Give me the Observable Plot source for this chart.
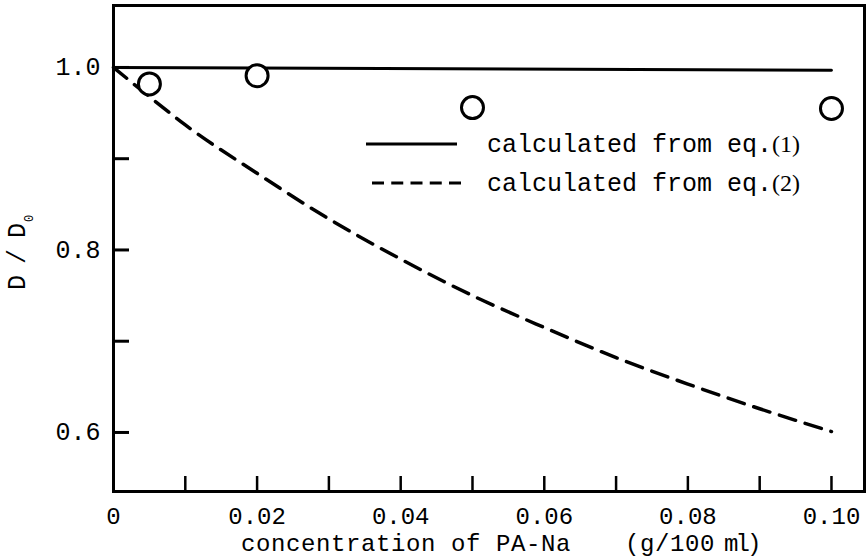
<!DOCTYPE html>
<html>
<head>
<meta charset="utf-8">
<script src="https://cdn.jsdelivr.net/npm/d3@7"></script>
<script src="https://cdn.jsdelivr.net/npm/@observablehq/plot@0.6"></script>
<style>
  html, body { margin: 0; padding: 0; background: #fff; }
  #chart { width: 867px; height: 560px; }
</style>
</head>
<body>
<div id="chart"></div>
<script>
// ---- data ----
const measuredConc  = [0.005, 0.02, 0.05, 0.10];
const measuredRatio = [0.982, 0.991, 0.956, 0.955];

const eq1Conc  = [0, 0.10];
const eq1Ratio = [1.0, 0.997];

const eq2Conc  = [0, 0.005, 0.01, 0.02, 0.03, 0.04, 0.05, 0.06, 0.07, 0.08, 0.09, 0.10];
const eq2Ratio = [1.0, 0.968, 0.937, 0.884, 0.834, 0.790, 0.750, 0.715, 0.682, 0.653, 0.626, 0.601];

const xTickValues = [0.01, 0.02, 0.03, 0.04, 0.05, 0.06, 0.07, 0.08, 0.09, 0.10];
const xLabelValues = [0, 0.02, 0.04, 0.06, 0.08, 0.10];
const xLabelText   = ["0", "0.02", "0.04", "0.06", "0.08", "0.10"];
const yTickValues  = [0.6, 0.7, 0.8, 0.9, 1.0];
const yLabelValues = [0.6, 0.8, 1.0];
const yLabelText   = ["0.6", "0.8", "1.0"];

const xTitleMain = "concentration of PA-Na";
const xTitleUnitA = "(g/100";
const xTitleUnitB = "ml)";
const yTitleMain = "D / D";
const yTitleSub = "0";
const legendText = ["calculated from eq.", "calculated from eq."];
const legendEq   = ["(1)", "(2)"];

// ---- tables ----
const measured = measuredConc.map((c, i) => ({c, r: measuredRatio[i]}));
const eq1 = eq1Conc.map((c, i) => ({c, r: eq1Ratio[i]}));
const eq2 = eq2Conc.map((c, i) => ({c, r: eq2Ratio[i]}));

const mono = "'Liberation Mono', 'Courier New', monospace";
const serif = "'Liberation Serif', 'Times New Roman', serif";

const W = 867, H = 560;
const mL = 113, mR = 3, mT = 5, mB = 69;
const frameW = W - mL - mR, frameH = H - mT - mB;

const plot = Plot.plot({
  width: W, height: H,
  marginLeft: mL, marginRight: mR, marginTop: mT, marginBottom: mB,
  style: {fontFamily: mono, fontSize: "25px", color: "black", background: "white"},
  x: {domain: [0, 0.1046]},
  y: {domain: [0.5353, 1.0679]},
  marks: [
    Plot.line(eq1, {x: "c", y: "r", stroke: "black", strokeWidth: 3}),
    Plot.line(eq2, {x: "c", y: "r", stroke: "black", strokeWidth: 3.5, strokeDasharray: "17,10", curve: "monotone-x"}),
    Plot.ruleX(xTickValues, {x: d => d, insetTop: frameH - 15, stroke: "black", strokeWidth: 2.5}),
    Plot.ruleY(yTickValues, {y: d => d, insetRight: frameW - 16, stroke: "black", strokeWidth: 3}),
    Plot.axisX(xLabelValues, {
      tickSize: 0, tickPadding: 15, label: null,
      tickFormat: d => xLabelText[xLabelValues.indexOf(d)],
      fontSize: 24, fontFamily: mono, fill: "black"
    }),
    Plot.axisY(yLabelValues, {
      tickSize: 0, tickPadding: 13, label: null,
      tickFormat: d => yLabelText[yLabelValues.indexOf(d)],
      fontSize: 25, fontFamily: mono, fill: "black"
    }),
    Plot.frame({stroke: "black", strokeWidth: 3}),
    Plot.dot(measured, {x: "c", y: "r", r: 11, stroke: "black", strokeWidth: 3, fill: "white"})
  ]
});

document.getElementById("chart").appendChild(plot);

// ---- titles and legend added to the same SVG ----
const svg = d3.select(plot);

// y-axis title (rotated, with subscript)
const yt = svg.append("text")
  .attr("transform", "translate(25,290) rotate(-90)")
  .attr("text-anchor", "start")
  .attr("font-family", mono).attr("font-size", 25).attr("fill", "black")
  .attr("letter-spacing", -2);
yt.append("tspan").text(yTitleMain);
yt.append("tspan").attr("font-size", 12).attr("dx", 3).attr("dy", 8).attr("letter-spacing", 0).text(yTitleSub);

// x-axis title
const xt = svg.append("text")
  .attr("x", 241).attr("y", 551)
  .attr("text-anchor", "start")
  .attr("font-family", mono).attr("font-size", 24).attr("letter-spacing", 0.6).attr("fill", "black");
xt.append("tspan").text(xTitleMain);
xt.append("tspan").attr("dx", 54).text(xTitleUnitA);
xt.append("tspan").attr("dx", 9).attr("letter-spacing", -3).text(xTitleUnitB);

// legend
const legendRows = [
  {y: 144, base: 152, dash: null, x1: 366, x2: 457},
  {y: 183, base: 191, dash: "12,7.25", x1: 372, x2: 465}
];
legendRows.forEach((row, i) => {
  const ln = svg.append("line")
    .attr("x1", row.x1).attr("x2", row.x2).attr("y1", row.y).attr("y2", row.y)
    .attr("stroke", "black").attr("stroke-width", 3);
  if (row.dash) ln.attr("stroke-dasharray", row.dash);
  const t = svg.append("text")
    .attr("x", 487).attr("y", row.base)
    .attr("text-anchor", "start")
    .attr("font-family", mono).attr("font-size", 25).attr("fill", "black");
  t.append("tspan").text(legendText[i]);
  t.append("tspan").attr("font-family", serif).attr("font-size", 24).text(legendEq[i]);
});
</script>
</body>
</html>
